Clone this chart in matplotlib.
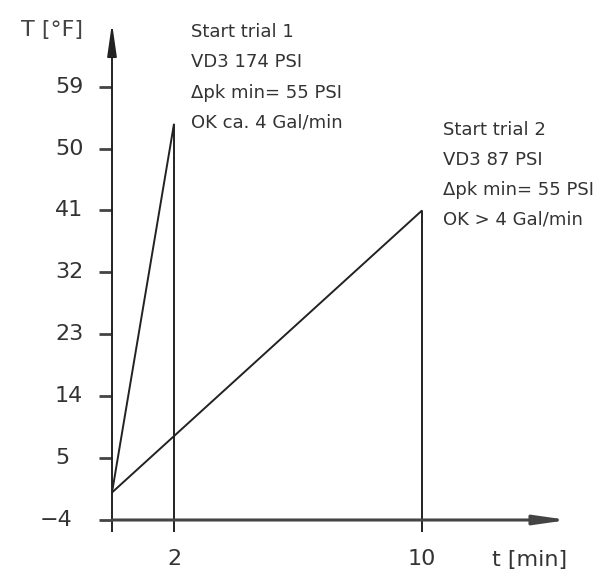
import matplotlib.pyplot as plt
import matplotlib.transforms as mtransforms

# values
t_trial1 = [0, 2, 2]
T_trial1 = [0, 53.6, -4]
t_trial2 = [0, 10, 10]
T_trial2 = [0, 41, -4]
y_ticks = [-4, 5, 14, 23, 32, 41, 50, 59]
x_ticks = [0, 2, 10]
x_tick_labels = ['', '2', '10']
note1 = ['Start trial 1', 'VD3 174 PSI', '\u0394pk min= 55 PSI', 'OK ca. 4 Gal/min']
note2 = ['Start trial 2', 'VD3 87 PSI', '\u0394pk min= 55 PSI', 'OK > 4 Gal/min']

plt.rcParams['font.family'] = ['DejaVu Sans']
ink = '#222222'
txt = '#333333'

fig = plt.figure(figsize=(6.09, 5.76), dpi=100)
ax = fig.add_axes([112 / 609, 56 / 576, 456 / 609, 497 / 576])
ax.set_xlim(0, 456 / 31)
ax.set_ylim(-4, -4 + 497 / 6.878)

ax.plot(t_trial1, T_trial1, color=ink, lw=1.4, solid_joinstyle='miter')
ax.plot(t_trial2, T_trial2, color=ink, lw=1.4, solid_joinstyle='miter')

for s in ax.spines.values():
    s.set_visible(False)

# axes drawn as arrows
ax.annotate('', xy=(0, 1), xytext=(0, 0), xycoords='axes fraction',
            arrowprops=dict(arrowstyle='-|>,head_length=1.4,head_width=0.2',
                            mutation_scale=14, color=ink, lw=1.4, shrinkA=0, shrinkB=0))
ax.annotate('', xy=(1, 0), xytext=(0, 0), xycoords='axes fraction',
            arrowprops=dict(arrowstyle='-|>,head_length=1.4,head_width=0.2',
                            mutation_scale=14, color='#444444', lw=2.2, shrinkA=0, shrinkB=0))

# y ticks: marks from matplotlib, labels left aligned like the CAD drawing
ax.set_yticks(y_ticks)
ax.set_yticklabels([])
ax.tick_params(axis='y', direction='out', length=9.4, width=2, color='#444444')
trans = mtransforms.blended_transform_factory(ax.transAxes, ax.transData)
for v in y_ticks:
    if v < 0:
        ax.text(-40 / 456, v, '\u2212' + str(-v), transform=trans, ha='right',
                va='center', fontsize=16, color=txt)
    else:
        ax.text(-57 / 456, v, str(v), transform=trans, ha='left', va='center',
                fontsize=16, color=txt)

ax.set_xticks(x_ticks)
ax.set_xticklabels(x_tick_labels)
ax.tick_params(axis='x', direction='out', length=8.6, width=1.4, color=ink,
               pad=12, labelsize=16, labelcolor=txt)

fig.text(52 / 609, 1 - 30 / 576, 'T [°F]', ha='center', va='center',
         fontsize=16, color='#444444')
fig.text(530 / 609, 1 - 560 / 576, 't [min]', ha='center', va='center',
         fontsize=16, color=txt)

for i, line in enumerate(note1):
    fig.text(191 / 609, 1 - (32 + 30.3 * i) / 576, line, ha='left', va='center',
             fontsize=13, color=txt)
for i, line in enumerate(note2):
    fig.text(443 / 609, 1 - (130 + 30 * i) / 576, line, ha='left', va='center',
             fontsize=13, color=txt)

fig.savefig('out.png', dpi=100)
